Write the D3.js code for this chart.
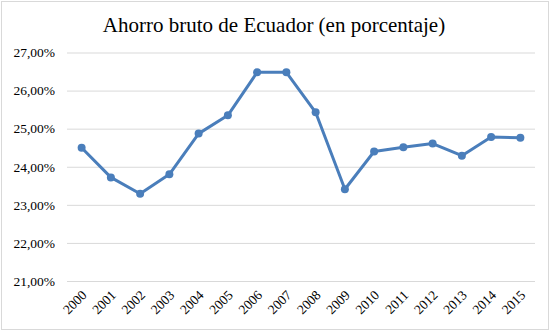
<!DOCTYPE html>
<html><head><meta charset="utf-8">
<script src="https://cdn.jsdelivr.net/npm/d3@7"></script>
<style>html,body{margin:0;padding:0;background:#fff;} svg text{font-family:"Liberation Serif","Times New Roman",serif;}</style>
</head><body>
<svg id="c" width="551" height="332"></svg>
<script>
const years = ["2000","2001","2002","2003","2004","2005","2006","2007","2008","2009","2010","2011","2012","2013","2014","2015"];
const savings = [24.50,23.72,23.29,23.80,24.87,25.35,26.48,26.48,25.43,23.41,24.40,24.51,24.61,24.29,24.78,24.76];
const yTicks = [21,22,23,24,25,26,27];
const title = "Ahorro bruto de Ecuador (en porcentaje)";

const svg = d3.select("#c");
svg.append("rect").attr("x",1.5).attr("y",1.5).attr("width",547).attr("height",328)
  .attr("fill","#fff").attr("stroke","#d9d9d9").attr("stroke-width",1);

const x = d3.scaleBand().domain(years).range([67,535]);
const y = d3.scaleLinear().domain([21,27]).range([281,52.5]);

svg.append("text").attr("x",274).attr("y",32).attr("text-anchor","middle")
  .style("font-size","21px").attr("fill","#000").text(title);

const yAxis = d3.axisLeft(y).tickValues(yTicks).tickSize(-(535-67)).tickPadding(12)
  .tickFormat(d => d3.format(".2f")(d).replace(".",",") + "%");
const gy = svg.append("g").attr("transform","translate(67,0)").call(yAxis);
gy.attr("font-family",null);
gy.select(".domain").remove();
gy.selectAll(".tick line").attr("stroke","#d9d9d9").attr("stroke-width",1);
gy.selectAll(".tick text").style("font-size","13.5px").attr("fill","#000");

const xAxis = d3.axisBottom(x).tickSize(0).tickPadding(0);
const gx = svg.append("g").attr("transform","translate(0,281)").call(xAxis);
gx.attr("font-family",null);
gx.select(".domain").remove();
gx.selectAll(".tick text").style("font-size","13.5px").attr("fill","#000")
  .attr("text-anchor","end").attr("dy",0).attr("y",0)
  .attr("transform","translate(6,15) rotate(-45)");

const line = d3.line().x((d,i)=>x(years[i])+x.bandwidth()/2).y(d=>y(d));
svg.append("path").datum(savings).attr("d",line).attr("fill","none")
  .attr("stroke","#4a7ebb").attr("stroke-width",3).attr("stroke-linejoin","round");
svg.selectAll("circle.m").data(savings).enter().append("circle").attr("class","m")
  .attr("cx",(d,i)=>x(years[i])+x.bandwidth()/2).attr("cy",d=>y(d)).attr("r",4)
  .attr("fill","#4a7ebb");
</script>
</body></html>
